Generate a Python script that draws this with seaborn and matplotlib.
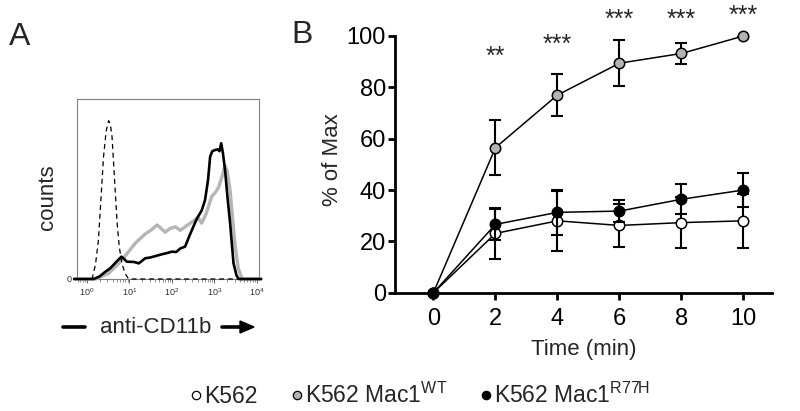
import numpy as np
import pandas as pd
import matplotlib
matplotlib.use("Agg")
import matplotlib.pyplot as plt
import seaborn as sns
from matplotlib.lines import Line2D
from matplotlib.ticker import LogLocator, FixedLocator, NullFormatter

# ---------------- data ----------------
# Panel A: flow-cytometry histograms (log10 fluorescence, relative counts)
hist_black_log = [-0.3, 0.16, 0.3, 0.43, 0.55, 0.67, 0.81, 0.88, 0.94, 1.1, 1.22, 1.37, 1.5, 1.65,
                  1.76, 1.9, 2.0, 2.1, 2.2, 2.31, 2.43, 2.59, 2.7, 2.78, 2.85, 2.9, 2.95, 3.02, 3.08,
                  3.12, 3.16, 3.2, 3.25, 3.31, 3.37, 3.45, 3.52, 3.57, 4.1]
hist_black_cnt = [0, 0, 1.5, 4, 6, 9, 12.4, 11, 9.6, 9.5, 8.7, 11.5, 12, 13,
                  13.7, 14.5, 15.2, 15, 17, 18, 25, 33.7, 38, 43.9, 55, 68, 71, 71.7, 72,
                  71, 75.4, 70, 60.6, 45, 31, 8.7, 2, 0, 0]
hist_gray_log = [-0.3, 0.2, 0.5, 0.75, 0.94, 1.14, 1.37, 1.5, 1.65, 1.75, 1.84, 1.95, 2.08, 2.2,
                 2.31, 2.43, 2.55, 2.62, 2.7, 2.8, 2.94, 3.02, 3.1, 3.18, 3.25, 3.3, 3.37, 3.43,
                 3.49, 3.56, 3.65, 4.1]
hist_gray_cnt = [0, 0, 3, 8.7, 14, 20, 25, 27, 30, 28, 26, 28, 29, 27,
                 29, 31, 33, 34, 31, 36, 46, 48, 51, 57, 63, 60, 49, 33,
                 18, 6, 0, 0]
hist_iso_log = [-0.3, 0.12, 0.2, 0.27, 0.33, 0.39, 0.45, 0.51, 0.55, 0.59, 0.65, 0.71, 0.76,
                0.82, 0.9, 0.98, 4.1]
hist_iso_cnt = [0, 0, 8, 21.7, 45, 68, 82, 88, 86, 79, 55, 31, 18,
                8.7, 3, 0, 0]

# Panel B: % of max over time
time_min = [0, 2, 4, 6, 8, 10]
k562 = [0, 23.1, 28.0, 26.2, 27.3, 28.0]
k562_err = [0, 9.9, 11.6, 8.3, 10.0, 10.5]
mac1_wt = [0, 56.5, 77.0, 89.4, 93.2, 100.0]
mac1_wt_err = [0, 10.7, 8.2, 8.9, 4.2, 0]
mac1_r77h = [0, 26.6, 31.3, 31.8, 36.4, 40.0]
mac1_r77h_err = [0, 6.0, 8.7, 4.3, 5.8, 6.6]
star_x = [2, 4, 6, 8, 10]
star_y = [92.0, 96.5, 106.2, 106.2, 107.7]
star_txt = ["**", "***", "***", "***", "***"]
xticks_B = [0, 2, 4, 6, 8, 10]
yticks_B = [0, 20, 40, 60, 80, 100]
legend_labels = ["K562", "K562 Mac1$^{\\mathrm{WT}}$", "K562 Mac1$^{\\mathrm{R77H}}$"]

# ---------------- style ----------------
sns.set_theme(style="ticks")
plt.rcParams["font.family"] = ["Liberation Sans", "DejaVu Sans"]
plt.rcParams["mathtext.fontset"] = "custom"
plt.rcParams["mathtext.rm"] = "Liberation Sans"
plt.rcParams["mathtext.it"] = "Liberation Sans:italic"
plt.rcParams["mathtext.bf"] = "Liberation Sans:bold"

W, H = 800, 411
fig = plt.figure(figsize=(W / 100, H / 100), dpi=100)
fig.patch.set_facecolor("white")

def fx(px):
    return px / W

def fy(py):
    return 1 - py / H

# ---------------- panel A ----------------
axA = fig.add_axes([fx(77), fy(279), fx(182), 180 / H])
dfA_iso = pd.DataFrame({"x": np.power(10.0, hist_iso_log), "y": hist_iso_cnt})
dfA_gray = pd.DataFrame({"x": np.power(10.0, hist_gray_log), "y": hist_gray_cnt})
dfA_black = pd.DataFrame({"x": np.power(10.0, hist_black_log), "y": hist_black_cnt})
sns.lineplot(data=dfA_gray, x="x", y="y", ax=axA, color="#b5b5b5", lw=2.4, zorder=4,
             sort=False, clip_on=False)
sns.lineplot(data=dfA_black, x="x", y="y", ax=axA, color="black", lw=1.9, zorder=5,
             sort=False, clip_on=False)
sns.lineplot(data=dfA_iso, x="x", y="y", ax=axA, color="black", lw=0.9,
             linestyle=(0, (4, 3)), zorder=6, sort=False, clip_on=False)
axA.set_xscale("log")
axA.set_xlim(10 ** -0.235, 10 ** 4.05)
axA.set_ylim(0, 100)
axA.set_xlabel("")
axA.set_ylabel("counts", fontsize=16)
axA.yaxis.set_label_coords(-0.107, 0.456)
for s in axA.spines.values():
    s.set_color("#808080")
    s.set_linewidth(0.8)
axA.xaxis.set_major_locator(FixedLocator([1, 10, 100, 1000, 10000]))
axA.xaxis.set_minor_locator(LogLocator(base=10, subs=np.arange(2, 10), numticks=20))
axA.xaxis.set_minor_formatter(NullFormatter())
axA.set_xticklabels(["$10^{0}$", "$10^{1}$", "$10^{2}$", "$10^{3}$", "$10^{4}$"])
axA.set_yticks([0])
axA.set_yticklabels(["0"])
axA.tick_params(axis="x", which="major", length=3, width=0.7, color="#606060",
                labelsize=6.5, labelcolor="#303030", pad=2)
axA.tick_params(axis="x", which="minor", length=1.8, width=0.5, color="#606060")
axA.tick_params(axis="y", length=3, width=0.7, color="#606060", labelsize=6.5,
                labelcolor="#303030", pad=1)

fig.text(fx(20), fy(37), "A", fontsize=23, ha="center", va="center")

# anti-CD11b label with bar and arrow
fig.text(fx(155.5), fy(327), "anti-CD11b", fontsize=16, ha="center", va="center")
fig.add_artist(Line2D([fx(63), fx(85)], [fy(327), fy(327)], color="black", lw=2.6,
                      transform=fig.transFigure))
fig.add_artist(Line2D([fx(222), fx(242)], [fy(327), fy(327)], color="black", lw=2.6,
                      transform=fig.transFigure))
fig.add_artist(plt.Polygon([[fx(240), fy(321)], [fx(254), fy(327)], [fx(240), fy(333)]],
                           closed=True, color="black", transform=fig.transFigure))

# ---------------- panel B ----------------
axB = fig.add_axes([fx(395), fy(292.7), fx(377), 256.7 / H])
series = [
    (k562, k562_err, "white"),
    (mac1_wt, mac1_wt_err, "#b3b3b3"),
    (mac1_r77h, mac1_r77h_err, "black"),
]
for i, (vals, errs, fc) in enumerate(series):
    axB.errorbar(time_min[1:], vals[1:], yerr=errs[1:], fmt="none", ecolor="black",
                 elinewidth=1.5, capsize=4.3, capthick=1.5, zorder=2 + 2 * i)
    sns.lineplot(x=time_min, y=vals, ax=axB, color="black", lw=1.1, marker="o",
                 markersize=7.5, markerfacecolor=fc, markeredgecolor="black",
                 markeredgewidth=1.1, zorder=3 + 2 * i, clip_on=False)
for x, y, t in zip(star_x, star_y, star_txt):
    axB.text(x, y, t, ha="center", va="center", fontsize=18, clip_on=False)

axB.set_xlim(-1.24, 10.92)
axB.set_ylim(0, 100)
axB.set_xticks(xticks_B)
axB.set_yticks(yticks_B)
sns.despine(ax=axB)
for s in ["left", "bottom"]:
    axB.spines[s].set_linewidth(2)
    axB.spines[s].set_color("black")
axB.tick_params(axis="both", direction="out", length=5, width=2, color="black",
                labelsize=17, labelcolor="black")
axB.tick_params(axis="y", pad=1.5)
axB.tick_params(axis="x", pad=6)
axB.set_xlabel("Time (min)", fontsize=16)
axB.set_ylabel("% of Max", fontsize=16)
axB.xaxis.set_label_coords(0.5, -0.182)
axB.yaxis.set_label_coords(-0.138, 0.517)

fig.text(fx(302), fy(35), "B", fontsize=23, ha="center", va="center")

# ---------------- legend ----------------
handles = [Line2D([], [], ls="none", marker="o", markersize=6, markerfacecolor=fc,
                  markeredgecolor="black", markeredgewidth=0.9) for _, _, fc in series]
fig.legend(handles, legend_labels, loc="center", bbox_to_anchor=(fx(421), fy(395)),
           ncol=3, frameon=False, fontsize=16.5, handlelength=0.4, handletextpad=0.15,
           columnspacing=1.5, borderaxespad=0, borderpad=0)

fig.savefig("out.png", dpi=100, facecolor="white")
